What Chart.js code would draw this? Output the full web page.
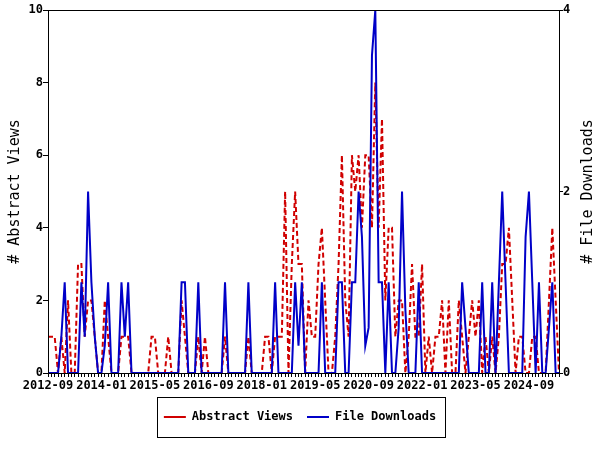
<!DOCTYPE html>
<html>
<head>
<meta charset="utf-8">
<script src="https://cdn.jsdelivr.net/npm/chart.js@4.4.1/dist/chart.umd.min.js"></script>
<style>
html, body { margin: 0; padding: 0; background: #fff; }
</style>
</head>
<body>
<canvas id="views" width="600" height="450"></canvas>
<script>
// monthly series, 2012-09 .. 2025-06
var firstYear = 2012, firstMonth = 9, monthCount = 154;
var tickLabels = ['2012-09', '2014-01', '2015-05', '2016-09', '2018-01', '2019-05', '2020-09', '2022-01', '2023-05', '2024-09'];

var abstractViews = [
    1, 1, 1, 0, 1, 0, 2, 0, 0, 3,
    3, 1, 2, 2, 1, 0, 0, 2, 1, 0,
    0, 0, 1, 1, 1, 0, 0, 0, 0, 0,
    0, 1, 1, 0, 0, 0, 1, 0, 0, 0,
    2, 1, 0, 0, 0, 1, 0, 1, 0, 0,
    0, 0, 0, 1, 0, 0, 0, 0, 0, 0,
    1, 0, 0, 0, 0, 1, 1, 0, 1, 1,
    1, 5, 0, 3, 5, 3, 3, 0, 2, 1,
    1, 3, 4, 2, 0, 0, 1, 3, 6, 2,
    1, 6, 5, 6, 4, 6, 6, 4, 8, 4,
    7, 2, 4, 4, 1, 2, 2, 0, 1, 3,
    1, 1, 3, 0, 1, 0, 1, 1, 2, 0,
    2, 0, 0, 2, 1, 0, 1, 2, 1, 2,
    0, 1, 0, 1, 0, 1, 3, 3, 4, 2,
    0, 1, 1, 0, 0, 1, 1, 0, 0, 0,
    2, 4, 2, 0
];

var fileDownloads = [
    0, 0, 0, 0, 0.4, 1, 0, 0, 0, 0,
    1, 0.4, 2, 1, 0.4, 0, 0, 0.3, 1, 0,
    0, 0, 1, 0.4, 1, 0, 0, 0, 0, 0,
    0, 0, 0, 0, 0, 0, 0, 0, 0, 0,
    1, 1, 0, 0, 0, 1, 0, 0, 0, 0,
    0, 0, 0, 1, 0, 0, 0, 0, 0, 0,
    1, 0, 0, 0, 0, 0, 0, 0, 1, 0,
    0, 0, 0, 0, 1, 0.3, 1, 0, 0, 0,
    0, 0, 1, 0, 0, 0, 0, 1, 1, 0,
    0, 1, 1, 2, 1.5, 0.3, 0.5, 3.5, 4, 1,
    1, 0, 1, 0, 0, 0.5, 2, 0.7, 0, 0,
    0, 1, 0, 0, 0, 0, 0, 0, 0, 0,
    0, 0, 0, 0, 1, 0.5, 0, 0, 0, 0,
    1, 0, 0, 1, 0, 1, 2, 1, 0, 0,
    0, 0, 0, 1.5, 2, 1, 0, 1, 0, 0,
    0.5, 1, 0, 0
];

var months = [];
for (var i = 0; i < monthCount; i++) {
    var m = firstMonth - 1 + i;
    var y = firstYear + Math.floor(m / 12);
    var mm = (m % 12) + 1;
    months.push(y + '-' + (mm < 10 ? '0' + mm : mm));
}

var mono = "'DejaVu Sans Mono', 'Liberation Mono', monospace";

// gnuplot-like frame, right axis title and legend box
var framePlugin = {
    id: 'frame',
    afterDraw: function (chart) {
        var ctx = chart.ctx, a = chart.chartArea;
        ctx.save();
        ctx.strokeStyle = '#000';
        ctx.lineWidth = 1;
        ctx.strokeRect(Math.round(a.left) + 0.5, Math.round(a.top) + 0.5,
            Math.round(a.right - a.left), Math.round(a.bottom - a.top));

        ctx.translate(588, (a.top + a.bottom) / 2);
        ctx.rotate(-Math.PI / 2);
        ctx.font = '15px ' + mono;
        ctx.fillStyle = '#000';
        ctx.textAlign = 'center';
        ctx.textBaseline = 'middle';
        ctx.fillText('# File Downloads', 0, 0);
        ctx.restore();

        var hb = chart.legend.legendHitBoxes;
        if (hb && hb.length) {
            var l = Math.min.apply(null, hb.map(function (h) { return h.left; }));
            var r = Math.max.apply(null, hb.map(function (h) { return h.left + h.width; }));
            var cy = hb[0].top + hb[0].height / 2;
            ctx.save();
            ctx.strokeStyle = '#000';
            ctx.lineWidth = 1;
            ctx.strokeRect(Math.round(l - 7) + 0.5, Math.round(cy - 20) + 0.5, Math.round(r - l + 16), 40);
            ctx.restore();
        }
    }
};

var ctx = document.getElementById('views').getContext('2d');
var chart = new Chart(ctx, {
    type: 'line',
    data: {
        labels: months,
        datasets: [{
            label: 'Abstract Views',
            data: abstractViews,
            yAxisID: 'y',
            borderColor: 'rgb(208, 0, 0)',
            borderWidth: 2,
            borderDash: [5, 3],
            pointRadius: 0,
            pointStyle: 'line',
            tension: 0,
            fill: false,
            order: 2
        }, {
            label: 'File Downloads',
            data: fileDownloads,
            yAxisID: 'y1',
            borderColor: 'rgb(0, 0, 200)',
            borderWidth: 2,
            pointRadius: 0,
            pointStyle: 'line',
            tension: 0,
            fill: false,
            order: 1
        }]
    },
    options: {
        responsive: false,
        animation: false,
        devicePixelRatio: 1,
        layout: {
            padding: { top: 10, bottom: 17, left: 0, right: 0 }
        },
        plugins: {
            tooltip: { enabled: false },
            legend: {
                position: 'bottom',
                labels: {
                    usePointStyle: true,
                    pointStyleWidth: 22,
                    padding: 14,
                    color: '#000',
                    font: { family: mono, size: 12, weight: 'bold' },
                    sort: function (a, b) { return a.datasetIndex - b.datasetIndex; }
                }
            }
        },
        scales: {
            x: {
                type: 'category',
                offset: false,
                ticks: {
                    autoSkip: false,
                    maxRotation: 0,
                    minRotation: 0,
                    padding: 2,
                    color: '#000',
                    font: { family: mono, size: 12, weight: 'bold' },
                    callback: function (val, idx) {
                        return tickLabels.indexOf(months[idx]) >= 0 ? months[idx] : '';
                    }
                },
                grid: { drawOnChartArea: false, tickLength: 4, color: '#000' },
                border: { color: '#000' },
                afterFit: function (s) { s.height = 24; }
            },
            y: {
                position: 'left',
                min: 0,
                max: 10,
                ticks: {
                    stepSize: 2,
                    padding: 0,
                    color: '#000',
                    font: { family: mono, size: 12, weight: 'bold' }
                },
                grid: { drawOnChartArea: false, tickLength: 5, color: '#000' },
                border: { color: '#000' },
                title: {
                    display: true,
                    text: '# Abstract Views',
                    color: '#000',
                    padding: { top: 6, bottom: 0 },
                    font: { family: mono, size: 15 }
                },
                afterFit: function (s) { s.width = 48; }
            },
            y1: {
                position: 'right',
                min: 0,
                max: 4,
                ticks: {
                    stepSize: 2,
                    padding: 0,
                    color: '#000',
                    font: { family: mono, size: 12, weight: 'bold' }
                },
                grid: { drawOnChartArea: false, tickLength: 4, color: '#000' },
                border: { color: '#000' },
                afterFit: function (s) { s.width = 41; }
            }
        }
    },
    plugins: [framePlugin]
});
</script>
</body>
</html>
